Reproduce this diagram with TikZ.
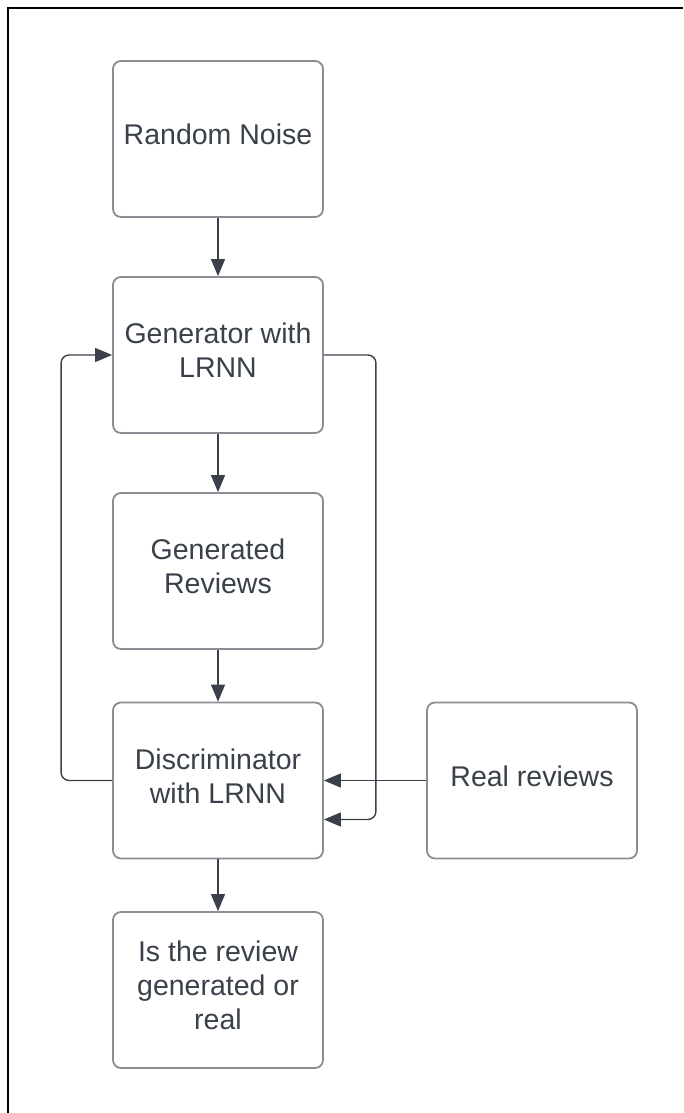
\documentclass[tikz,border=0pt]{standalone}
\usepackage{fontspec}
\setmainfont{Liberation Sans}
\usetikzlibrary{arrows.meta}
\definecolor{ink}{HTML}{3A414B}
\definecolor{edgegray}{HTML}{8A8E94}
\begin{document}
\begin{tikzpicture}[x=1pt,y=-1pt,
  box/.style={draw=edgegray, line width=1.8pt, rounded corners=8pt,
    minimum width=210pt, minimum height=156pt, align=center, text=ink,
    font=\fontsize{28.5}{34}\selectfont, inner sep=0pt, text depth=9pt},
  conn/.style={draw=ink, line width=1.4pt, rounded corners=8pt,
    -{Triangle[length=17pt,width=14pt]}}]
\useasboundingbox (0,0) rectangle (683,1113);
\fill[white] (0,0) rectangle (683,1113);
\draw[line width=2.5pt] (8,1113) -- (8,8) -- (683,8);
\node[box] (noise) at (218,139) {Random Noise};
\node[box] (gen) at (218,355) {Generator with\\LRNN};
\node[box] (genrev) at (218,571) {Generated\\Reviews};
\node[box] (disc) at (218,780.5) {Discriminator\\with LRNN};
\node[box] (out) at (218,990) {Is the review\\generated or\\real};
\node[box] (real) at (532,780.5) {Real reviews};
\draw[conn] (noise) -- (gen);
\draw[conn] (gen) -- (genrev);
\draw[conn] (genrev) -- (disc);
\draw[conn] (disc) -- (out);
\draw[conn] (disc.west) -- ++(-51,0) |- (gen.west);
\draw[conn] (gen.east) -- ++(52,0) |- ([yshift=-39pt]disc.east);
\draw[conn] (real.west) -- (disc.east);
\end{tikzpicture}
\end{document}
